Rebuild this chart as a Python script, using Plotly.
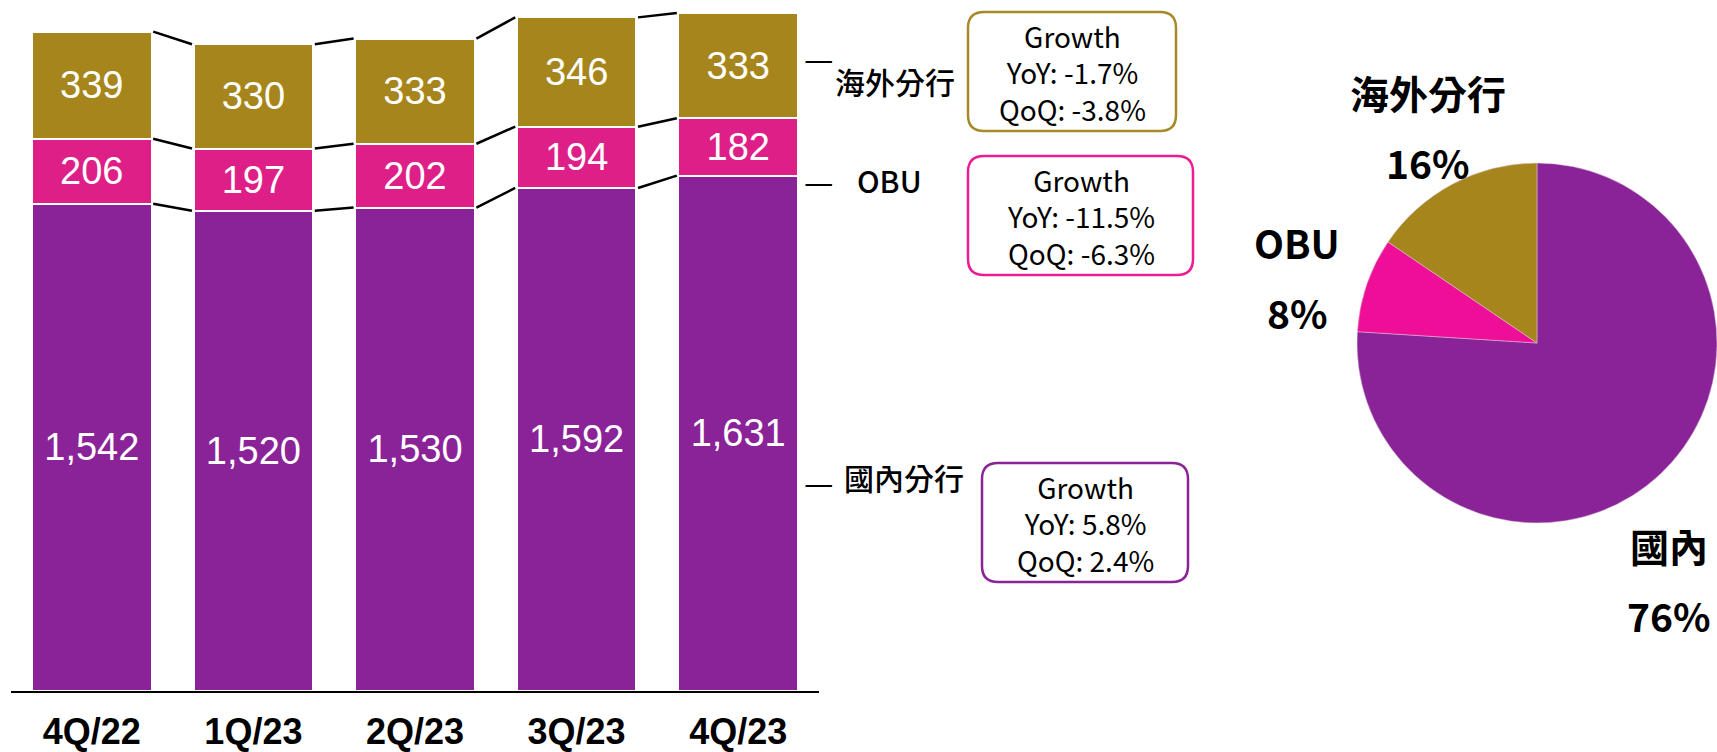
import plotly.graph_objects as go

W, H = 1717, 752

quarters = ['4Q/22', '1Q/23', '2Q/23', '3Q/23', '4Q/23']
domestic = [1542, 1520, 1530, 1592, 1631]   # 國內分行
obu = [206, 197, 202, 194, 182]             # OBU
overseas = [339, 330, 333, 346, 333]        # 海外分行

seg_names = ['國內分行', 'OBU', '海外分行']
yoy = ['5.8%', '-11.5%', '-1.7%']
qoq = ['2.4%', '-6.3%', '-3.8%']

pie_labels = ['國內', 'OBU', '海外分行']
pie_values = [domestic[-1], obu[-1], overseas[-1]]

purple = '#8B2398'
pink_bar = '#DE1F87'
pink_pie = '#EE0E98'
gold = '#A6861C'


def px(x, y):
    return x / W, 1 - y / H


def rrect(x0, y0, x1, y1, r):
    # rounded rectangle in pixel coords -> paper path
    def p(x, y):
        a, b = px(x, y)
        return '{:.5f},{:.5f}'.format(a, b)
    return ('M ' + p(x0 + r, y0) + ' L ' + p(x1 - r, y0) + ' Q ' + p(x1, y0) + ' ' + p(x1, y0 + r) +
            ' L ' + p(x1, y1 - r) + ' Q ' + p(x1, y1) + ' ' + p(x1 - r, y1) +
            ' L ' + p(x0 + r, y1) + ' Q ' + p(x0, y1) + ' ' + p(x0, y1 - r) +
            ' L ' + p(x0, y0 + r) + ' Q ' + p(x0, y0) + ' ' + p(x0 + r, y0) + ' Z')


def note(x, y, text, font):
    a, b = px(x, y)
    return dict(x=a, y=b, xref='paper', yref='paper', xanchor='center', yanchor='middle',
                text=text, showarrow=False, font=font)


xs = list(range(len(quarters)))
fig = go.Figure()

for vals, col in [(domestic, purple), (obu, pink_bar), (overseas, gold)]:
    fig.add_trace(go.Bar(x=xs, y=vals, width=0.74, marker=dict(color=col, line=dict(color='white', width=2)),
                         text=['{:,}'.format(v) for v in vals], textposition='inside',
                         insidetextanchor='middle', textangle=0, constraintext='none',
                         textfont=dict(family='Liberation Sans, Arial', size=38, color='white'),
                         showlegend=False, hoverinfo='skip'))

# connector lines between segment tops
lvl1 = domestic
lvl2 = [a + b for a, b in zip(domestic, obu)]
lvl3 = [a + b + c for a, b, c in zip(domestic, obu, overseas)]
for lvl in [lvl1, lvl2, lvl3]:
    cx, cy = [], []
    for i in range(len(xs) - 1):
        cx += [xs[i] + 0.38, xs[i + 1] - 0.38, None]
        cy += [lvl[i], lvl[i + 1], None]
    fig.add_trace(go.Scatter(x=cx, y=cy, mode='lines', line=dict(color='black', width=2.5),
                             showlegend=False, hoverinfo='skip'))

fig.add_trace(go.Pie(labels=pie_labels, values=pie_values, sort=False, direction='clockwise', rotation=0,
                     marker=dict(colors=[purple, pink_pie, gold], line=dict(color='#d8c8d8', width=0.5)),
                     textinfo='none', hoverinfo='skip', showlegend=False,
                     domain=dict(x=[1357 / W, 1.0], y=[(409 - 180) / H, (409 + 180) / H])))

cjk = 'Noto Sans CJK TC'
ann = []

# right side segment names with dashes
for y in [57, 180, 481]:
    ann.append(note(819, y, '—', dict(family=cjk, size=33, color='black')))
for name, x, y in zip(seg_names, [904, 889, 895], [477, 180, 81]):
    ann.append(note(x, y, name, dict(family=cjk, size=30, color='black', weight=500)))

# growth boxes
boxes = [(982, 463, 1188, 582, purple), (968, 156, 1193, 275, '#EC1C92'), (968, 12, 1176, 131, '#A68A2A')]
shapes = []
for (x0, y0, x1, y1, col), yy, qq in zip(boxes, yoy, qoq):
    shapes.append(dict(type='path', xref='paper', yref='paper', path=rrect(x0, y0, x1, y1, 16),
                       line=dict(color=col, width=2.5), fillcolor='white', layer='below'))
    ann.append(note((x0 + x1) / 2, (y0 + y1) / 2 + 1, 'Growth<br>YoY: {}<br>QoQ: {}'.format(yy, qq),
                    dict(family=cjk, size=28, color='black')))

# pie labels
total = sum(pie_values)
pie_font = dict(family=cjk, size=39, color='black', weight='bold')
for lab, v, (x, y) in zip(pie_labels, pie_values, [(1669, 545), (1297, 242), (1428, 92)]):
    ann.append(note(x, y, lab, pie_font))
    ann.append(note(x, y + 70, '{:.0f}%'.format(v / total * 100), pie_font))

fig.update_layout(
    width=W, height=H, margin=dict(l=0, r=0, t=0, b=0, autoexpand=False),
    paper_bgcolor='white', plot_bgcolor='white', barmode='stack',
    xaxis=dict(domain=[11 / W, 819 / W], range=[-0.5, 4.5], tickvals=xs, ticktext=quarters,
               showgrid=False, zeroline=False, showline=True, linecolor='black', linewidth=2,
               ticks='', ticklabelstandoff=8, automargin=False,
               tickfont=dict(family='Liberation Sans Narrow, Arial Narrow, Liberation Sans', size=36,
                             color='black', weight='bold')),
    yaxis=dict(domain=[61 / H, 1], range=[0, 2187], visible=False, automargin=False),
    shapes=shapes, annotations=ann,
)

# drop the default page margin so the figure sits at the window's corner
fig.write_html('out.html', config={'displayModeBar': False},
               post_script="document.body.style.margin='0';")
